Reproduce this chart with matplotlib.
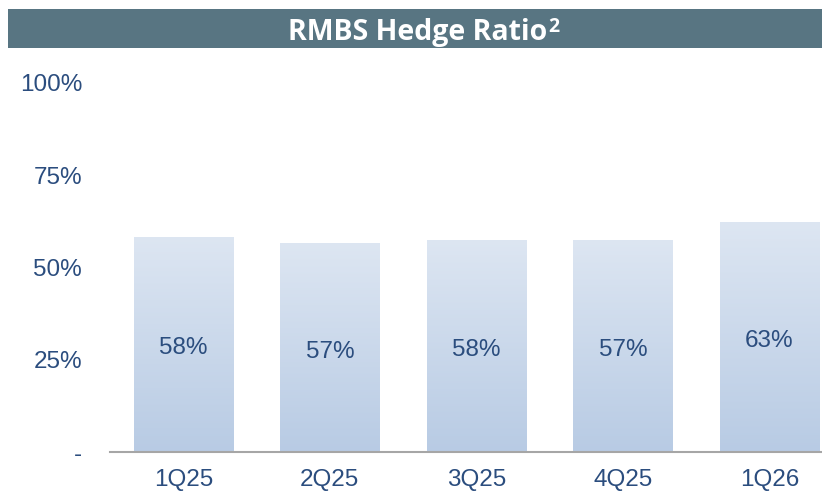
import matplotlib
matplotlib.use('Agg')
import matplotlib.pyplot as plt
import numpy as np
from matplotlib.patches import Rectangle

# chart data
quarters = ['1Q25', '2Q25', '3Q25', '4Q25', '1Q26']
hedge_ratio = [0.583, 0.566, 0.575, 0.575, 0.623]
bar_labels = ['58%', '57%', '58%', '57%', '63%']
ytick_vals = [0, 0.25, 0.50, 0.75, 1.00]
ytick_labels = ['-', '25%', '50%', '75%', '100%']

text_color = '#2b4d7e'
plt.rcParams['font.family'] = ['Liberation Sans', 'DejaVu Sans']

W, H = 822, 491
fig = plt.figure(figsize=(W / 100, H / 100), dpi=100)

# title banner
fig.patches.append(Rectangle((8 / W, 1 - 48 / H), 1 - 8 / W, 39 / H,
                             transform=fig.transFigure, facecolor='#587582',
                             edgecolor='none'))
title = fig.text(288 / W, 1 - 40 / H, 'RMBS Hedge Ratio', color='white',
                 fontsize=20.5, fontweight='bold', family=['Open Sans', 'DejaVu Sans'],
                 ha='left', va='baseline')
renderer = fig.canvas.get_renderer()
bb = title.get_window_extent(renderer)
fig.text((bb.x1 + 1) / W, 1 - 32 / H, '2', color='white', fontsize=14,
         fontweight='bold', family=['Open Sans', 'DejaVu Sans'],
         ha='left', va='baseline')

ax = fig.add_axes([110 / W, 39 / H, 1 - 110 / W, 369 / H])

x = np.arange(len(quarters))
width = 0.676
bars = ax.bar(x, hedge_ratio, width=width, color='none', edgecolor='none')

# vertical gradient inside each bar
grad = np.linspace(0, 1, 256).reshape(-1, 1)
cmap = matplotlib.colors.LinearSegmentedColormap.from_list('g', ['#b8cbe4', '#dde6f2'])
for b in bars:
    x0 = b.get_x()
    h = b.get_height()
    im = ax.imshow(grad, extent=[x0, x0 + b.get_width(), 0, h], origin='lower',
                   cmap=cmap, aspect='auto', zorder=2)
    im.set_clip_path(b)

for xi, v, lab in zip(x, hedge_ratio, bar_labels):
    ax.text(xi, v / 2 - 0.011, lab, ha='center', va='center', fontsize=17.5,
            color=text_color, zorder=3)

ax.set_xlim(-0.5, 4.358)
ax.set_ylim(0, 1)
ax.set_xticks(x)
ax.set_xticklabels(quarters)
ax.set_yticks(ytick_vals)
ax.set_yticklabels(ytick_labels)
ax.tick_params(axis='both', length=0, labelsize=17.5, labelcolor=text_color)
ax.tick_params(axis='y', pad=20)
ax.tick_params(axis='x', pad=12)

for s in ['top', 'right', 'left']:
    ax.spines[s].set_visible(False)
ax.spines['bottom'].set_color('#a6a6a6')
ax.spines['bottom'].set_linewidth(1.5)

fig.savefig('out.png', dpi=100)
